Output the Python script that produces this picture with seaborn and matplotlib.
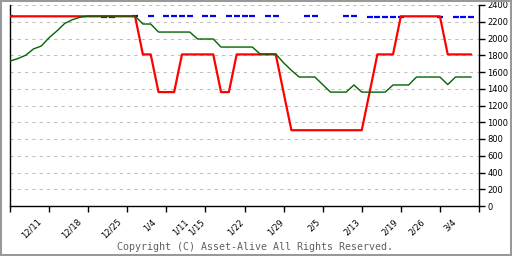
import matplotlib
matplotlib.use("Agg")
import matplotlib.pyplot as plt
from matplotlib.patches import Rectangle
from matplotlib.ticker import FixedLocator, FixedFormatter, NullFormatter
import seaborn as sns

# ---- data (day index) ----
days = list(range(60))
red_vals = [2265, 2265, 2265, 2265, 2265, 2265, 2265, 2265, 2265, 2265,
            2265, 2265, 2265, 2265, 2265, 2265, 2265, 1810, 1810, 1360,
            1360, 1360, 1810, 1810, 1810, 1810, 1810, 1360, 1360, 1810,
            1810, 1810, 1810, 1810, 1810, 1355, 905, 905, 905, 905,
            905, 905, 905, 905, 905, 905, 1355, 1810, 1810, 1810,
            2265, 2265, 2265, 2265, 2265, 2265, 1810, 1810, 1810, 1810]
green_vals = [1730, 1760, 1800, 1875, 1910, 2010, 2090, 2180, 2225, 2255,
              2268, 2268, 2268, 2268, 2268, 2268, 2268, 2173, 2173, 2077,
              2077, 2077, 2077, 2077, 1994, 1994, 1994, 1898, 1898, 1898,
              1898, 1898, 1815, 1815, 1815, 1710, 1620, 1540, 1540, 1540,
              1450, 1360, 1360, 1360, 1445, 1360, 1360, 1360, 1360, 1445,
              1445, 1445, 1540, 1540, 1540, 1540, 1450, 1540, 1540, 1540]
blue_days = [0, 12, 13, 16, 18, 20, 21, 22, 23, 25, 26, 28, 29, 30, 31,
             33, 34, 38, 39, 43, 44, 46, 47, 48, 49, 50, 55, 57, 58, 59]
blue_vals = [2268, 2255, 2255, 2268, 2268, 2268, 2268, 2268, 2268, 2268,
             2268, 2268, 2268, 2268, 2268, 2268, 2268, 2268, 2268, 2268,
             2268, 2252, 2252, 2252, 2252, 2260, 2252, 2252, 2252, 2252]
date_labels = ["12/11", "12/18", "12/25", "1/4", "1/11", "1/15", "1/22",
               "1/29", "2/5", "2/13", "2/19", "2/26", "3/4"]
date_pos = [4.22, 9.34, 14.46, 18.93, 23.03, 25.07, 30.06, 35.18, 39.91,
            45.03, 49.89, 53.35, 57.31]
y_ticks = [0, 200, 400, 600, 800, 1000, 1200, 1400, 1600, 1800, 2000, 2200, 2400]
x_major = [0, 5, 10, 15, 20, 25, 30, 35, 40, 45, 50, 55, 60]

sns.set_theme(style="white")
plt.rcParams["font.family"] = ["DejaVu Sans"]

fig = plt.figure(figsize=(5.12, 2.56), dpi=100)
fig.patch.set_facecolor("white")
ax = fig.add_axes([10 / 512, 50 / 256, 469 / 512, 201 / 256])
ax.set_facecolor("white")

sns.scatterplot(x=blue_days, y=blue_vals, marker="_", s=20, color="#0000ff",
                linewidth=1.6, ax=ax, zorder=2)
sns.lineplot(x=days, y=red_vals, color="#ff0000", linewidth=1.6, ax=ax, zorder=3)
sns.lineplot(x=days, y=green_vals, color="#006400", linewidth=1.0, ax=ax, zorder=4)

ax.set_xlim(0, 60)
ax.set_ylim(0, 2400)
ax.set_xlabel("")
ax.set_ylabel("")

for side in ["left", "bottom", "right"]:
    ax.spines[side].set_visible(True)
    ax.spines[side].set_color("black")
    ax.spines[side].set_linewidth(1.0)
ax.spines["top"].set_visible(False)

ax.yaxis.tick_right()
ax.set_yticks(y_ticks)
ax.set_yticklabels([str(v) for v in y_ticks])
ax.tick_params(axis="y", which="major", right=True, left=False, direction="out",
               length=4, width=1, color="black", pad=2, labelsize=6, labelcolor="black")

ax.xaxis.set_major_locator(FixedLocator(x_major))
ax.xaxis.set_major_formatter(NullFormatter())
ax.xaxis.set_minor_locator(FixedLocator(date_pos))
ax.xaxis.set_minor_formatter(FixedFormatter(date_labels))
ax.tick_params(axis="x", which="major", bottom=True, direction="out", length=4,
               width=1, color="black")
ax.tick_params(axis="x", which="minor", bottom=True, length=0, pad=8,
               labelsize=6, labelcolor="black")
for lab in ax.xaxis.get_minorticklabels():
    lab.set_rotation(45)
    lab.set_ha("right")

ax.yaxis.grid(True, color="#bdbdbd", linestyle=(0, (3, 4)), linewidth=0.75)
ax.xaxis.grid(False)
ax.set_axisbelow(True)

fig.text(255 / 512, 1 - 247 / 256, "Copyright (C) Asset-Alive All Rights Reserved.",
         family="DejaVu Sans Mono", fontsize=7.2, color="#606060",
         ha="center", va="center")

fig.patches.append(Rectangle((0, 0), 1, 1, transform=fig.transFigure, fill=False,
                             edgecolor="#999999", linewidth=2.9))

fig.savefig("out.png", dpi=100)
